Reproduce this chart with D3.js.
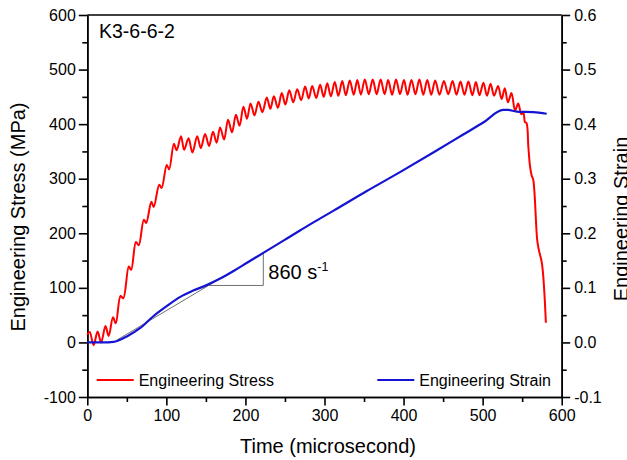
<!DOCTYPE html>
<html>
<head>
<meta charset="utf-8">
<script src="https://cdn.jsdelivr.net/npm/d3@7"></script>
<style>
   body { margin: 0; background: #fff; }
   svg text { font-family: "Liberation Sans", Arial, sans-serif; fill: #000; }
</style>
</head>
<body>
<svg id="chart" width="627" height="460"></svg>
<script>
   // stress (MPa) vs time (microsecond), read peak by peak
   var stressTime = [0, 3, 8, 13, 17.5, 23, 27, 32.5, 36, 42, 45.5, 52.5, 55.5, 61.5, 65, 71.5, 74.5,
      81, 84, 91, 94, 100.5, 103.5, 109.5, 113, 118.5, 122.5, 128, 133, 139, 143.5, 149, 154,
      159, 163.5, 168, 173, 178, 183, 188, 192.5, 197.5, 202, 206.5, 211.5, 216.5, 221.5, 227,
      231.5, 236, 241, 246, 250.5, 255.5, 260.5, 265.5, 270.5, 275.5, 280, 284.5, 289.5, 294.5,
      299, 303.5, 308, 313, 317.5, 322.5, 327, 332, 337, 341.5, 346, 351, 356, 361, 366, 371,
      376, 380.5, 385.5, 390.5, 395.5, 400.5, 405, 410, 415, 420, 425, 430, 435, 440, 445.5,
      451, 456.5, 462, 467, 472, 477, 482, 487, 491.5, 496, 501, 505.5, 510, 514.5, 519.5, 524,
      528, 532, 536.5, 541, 545, 549, 551.5, 553.5, 555.5, 557.8, 560, 562, 564, 569, 571, 575, 580];
   var stressValue = [14, 19, -5, 20, 0, 30, 12, 46, 35, 85, 81, 139, 133, 184, 178, 225, 219,
      258, 248, 289, 283, 325, 317, 364, 352, 378, 353, 374, 348, 378, 356, 382, 360,
      386, 366, 394, 372, 408, 385, 417, 397, 432, 410, 438, 416, 441, 422, 449,
      428, 451, 430, 457, 436, 462, 440, 464, 444, 469, 447, 470, 448, 472,
      450, 475, 451, 477, 452, 479, 453, 480, 454, 481, 454, 482, 455, 482, 455, 482,
      455, 481, 454, 482, 455, 481, 454, 481, 455, 482, 454, 481, 454, 480, 454,
      479, 455, 479, 454, 478, 454, 478, 453, 477, 453, 476, 452, 474, 452, 470, 446,
      466, 440, 457, 425, 438, 418, 421, 404, 402, 359, 322, 306, 298, 188, 170, 145, 36];

   // strain vs time
   var strainTime = [0, 20, 33, 40, 50, 66.6, 83.5, 100, 117, 134, 151, 168, 185, 202, 222.6,
      252, 270, 286, 311, 353, 395.5, 437.6, 475.5, 500.8, 526, 532, 543, 564, 581];
   var strainValue = [0, 0, 0.001, 0.004, 0.011, 0.026, 0.048, 0.066, 0.083, 0.095, 0.105, 0.117,
      0.131, 0.146, 0.164, 0.19, 0.206, 0.22, 0.241, 0.277, 0.312, 0.348, 0.381, 0.403, 0.426,
      0.426, 0.423, 0.422, 0.419];

   // 860 1/s fit line and its slope triangle
   var fitTime = [37, 222.6];
   var fitStrain = [0.004, 0.164];
   var triangleTime = [153.5, 222.6, 222.6];
   var triangleStrain = [0.1044, 0.1044, 0.164];

   var timeTicks = [0, 100, 200, 300, 400, 500, 600];
   var stressTicks = [-100, 0, 100, 200, 300, 400, 500, 600];
   var strainTicks = [-0.1, 0, 0.1, 0.2, 0.3, 0.4, 0.5, 0.6];

   var legendLabels = ["Engineering Stress", "Engineering Strain"];
   var legendColors = ["#ff0000", "#1414d2"];

   var svg = d3.select("#chart");
   var plotLeft = 87.3, plotRight = 561.7, plotTop = 15, plotBottom = 397;

   var x = d3.scaleLinear().domain([0, 600]).range([plotLeft, plotRight]);
   var yStress = d3.scaleLinear().domain([-100, 600]).range([plotBottom, plotTop]);
   var yStrain = d3.scaleLinear().domain([-0.1, 0.6]).range([plotBottom, plotTop]);

   function midTicks(ticks) {
      var out = [];
      for (var i = 0; i < ticks.length - 1; i++) out.push((ticks[i] + ticks[i + 1]) / 2);
      return out;
   }

   function styleAxis(g) {
      g.selectAll("path").attr("stroke", "#000").attr("stroke-width", 1.6);
      g.selectAll("line").attr("stroke", "#000").attr("stroke-width", 1.6);
      g.selectAll("text").attr("font-size", 16).attr("fill", "#000");
   }

   // frame top
   svg.append("line")
      .attr("x1", plotLeft).attr("x2", plotRight)
      .attr("y1", plotTop).attr("y2", plotTop)
      .attr("stroke", "#000").attr("stroke-width", 1.6);

   svg.append("g")
      .attr("transform", "translate(0," + plotBottom + ")")
      .call(d3.axisBottom(x).tickValues(midTicks(timeTicks)).tickSize(5).tickFormat("").tickSizeOuter(0))
      .call(styleAxis);
   svg.append("g")
      .attr("transform", "translate(0," + plotBottom + ")")
      .call(d3.axisBottom(x).tickValues(timeTicks).tickSize(8.5).tickPadding(4).tickSizeOuter(0)
         .tickFormat(function(d) { return String(d); }))
      .call(styleAxis);

   svg.append("g")
      .attr("transform", "translate(" + plotLeft + ",0)")
      .call(d3.axisLeft(yStress).tickValues(midTicks(stressTicks)).tickSize(5).tickFormat("").tickSizeOuter(0))
      .call(styleAxis);
   svg.append("g")
      .attr("transform", "translate(" + plotLeft + ",0)")
      .call(d3.axisLeft(yStress).tickValues(stressTicks).tickSize(8.5).tickPadding(3).tickSizeOuter(0)
         .tickFormat(function(d) { return String(d); }))
      .call(styleAxis);

   svg.append("g")
      .attr("transform", "translate(" + plotRight + ",0)")
      .call(d3.axisRight(yStrain).tickValues(midTicks(strainTicks)).tickSize(5).tickFormat("").tickSizeOuter(0))
      .call(styleAxis);
   svg.append("g")
      .attr("transform", "translate(" + plotRight + ",0)")
      .call(d3.axisRight(yStrain).tickValues(strainTicks).tickSize(8.5).tickPadding(4).tickSizeOuter(0)
         .tickFormat(function(d) { return d.toFixed(1); }))
      .call(styleAxis);

   // axis titles
   svg.append("text")
      .attr("x", 328).attr("y", 453)
      .attr("text-anchor", "middle").attr("font-size", 20)
      .text("Time (microsecond)");
   svg.append("text")
      .attr("transform", "translate(24.5,217) rotate(-90)")
      .attr("text-anchor", "middle").attr("font-size", 20)
      .text("Engineering Stress (MPa)");
   svg.append("text")
      .attr("transform", "translate(627.5,219) rotate(-90)")
      .attr("text-anchor", "middle").attr("font-size", 20)
      .text("Engineering Strain");

   svg.append("text")
      .attr("x", 99).attr("y", 38)
      .attr("font-size", 19.5)
      .text("K3-6-6-2");

   // fit line + triangle
   var fitLine = d3.line()
      .x(function(d) { return x(d[0]); })
      .y(function(d) { return yStrain(d[1]); });
   svg.append("path")
      .datum(d3.zip(fitTime, fitStrain))
      .attr("d", fitLine)
      .attr("fill", "none").attr("stroke", "#707070").attr("stroke-width", 1);
   svg.append("path")
      .datum(d3.zip(triangleTime, triangleStrain))
      .attr("d", fitLine)
      .attr("fill", "none").attr("stroke", "#707070").attr("stroke-width", 1);

   var rateLabel = svg.append("text")
      .attr("x", x(222.6) + 5).attr("y", 279)
      .attr("font-size", 20);
   rateLabel.append("tspan").text("860 s");
   rateLabel.append("tspan").attr("dy", -8).attr("font-size", 12.5).text("-1");

   // curves
   var stressLine = d3.line()
      .x(function(d) { return x(d[0]); })
      .y(function(d) { return yStress(d[1]); })
      .curve(d3.curveCatmullRom.alpha(0.5));
   svg.append("path")
      .datum(d3.zip(stressTime, stressValue))
      .attr("d", stressLine)
      .attr("fill", "none")
      .attr("stroke", legendColors[0])
      .attr("stroke-width", 2)
      .attr("stroke-linejoin", "round");

   var strainLine = d3.line()
      .x(function(d) { return x(d[0]); })
      .y(function(d) { return yStrain(d[1]); })
      .curve(d3.curveMonotoneX);
   svg.append("path")
      .datum(d3.zip(strainTime, strainValue))
      .attr("d", strainLine)
      .attr("fill", "none")
      .attr("stroke", legendColors[1])
      .attr("stroke-width", 2.2)
      .attr("stroke-linejoin", "round");

   // legend
   var legendX = [96.7, 377.3];
   var legend = svg.selectAll("g.legend")
      .data(legendLabels)
      .enter()
      .append("g")
      .attr("class", "legend")
      .attr("transform", function(d, i) { return "translate(" + legendX[i] + ",380)"; });
   legend.append("line")
      .attr("x1", 0).attr("x2", 37)
      .attr("stroke", function(d, i) { return legendColors[i]; })
      .attr("stroke-width", 2);
   legend.append("text")
      .attr("x", 42).attr("y", 5.7)
      .attr("font-size", 16)
      .text(function(d) { return d; });
</script>
</body>
</html>
